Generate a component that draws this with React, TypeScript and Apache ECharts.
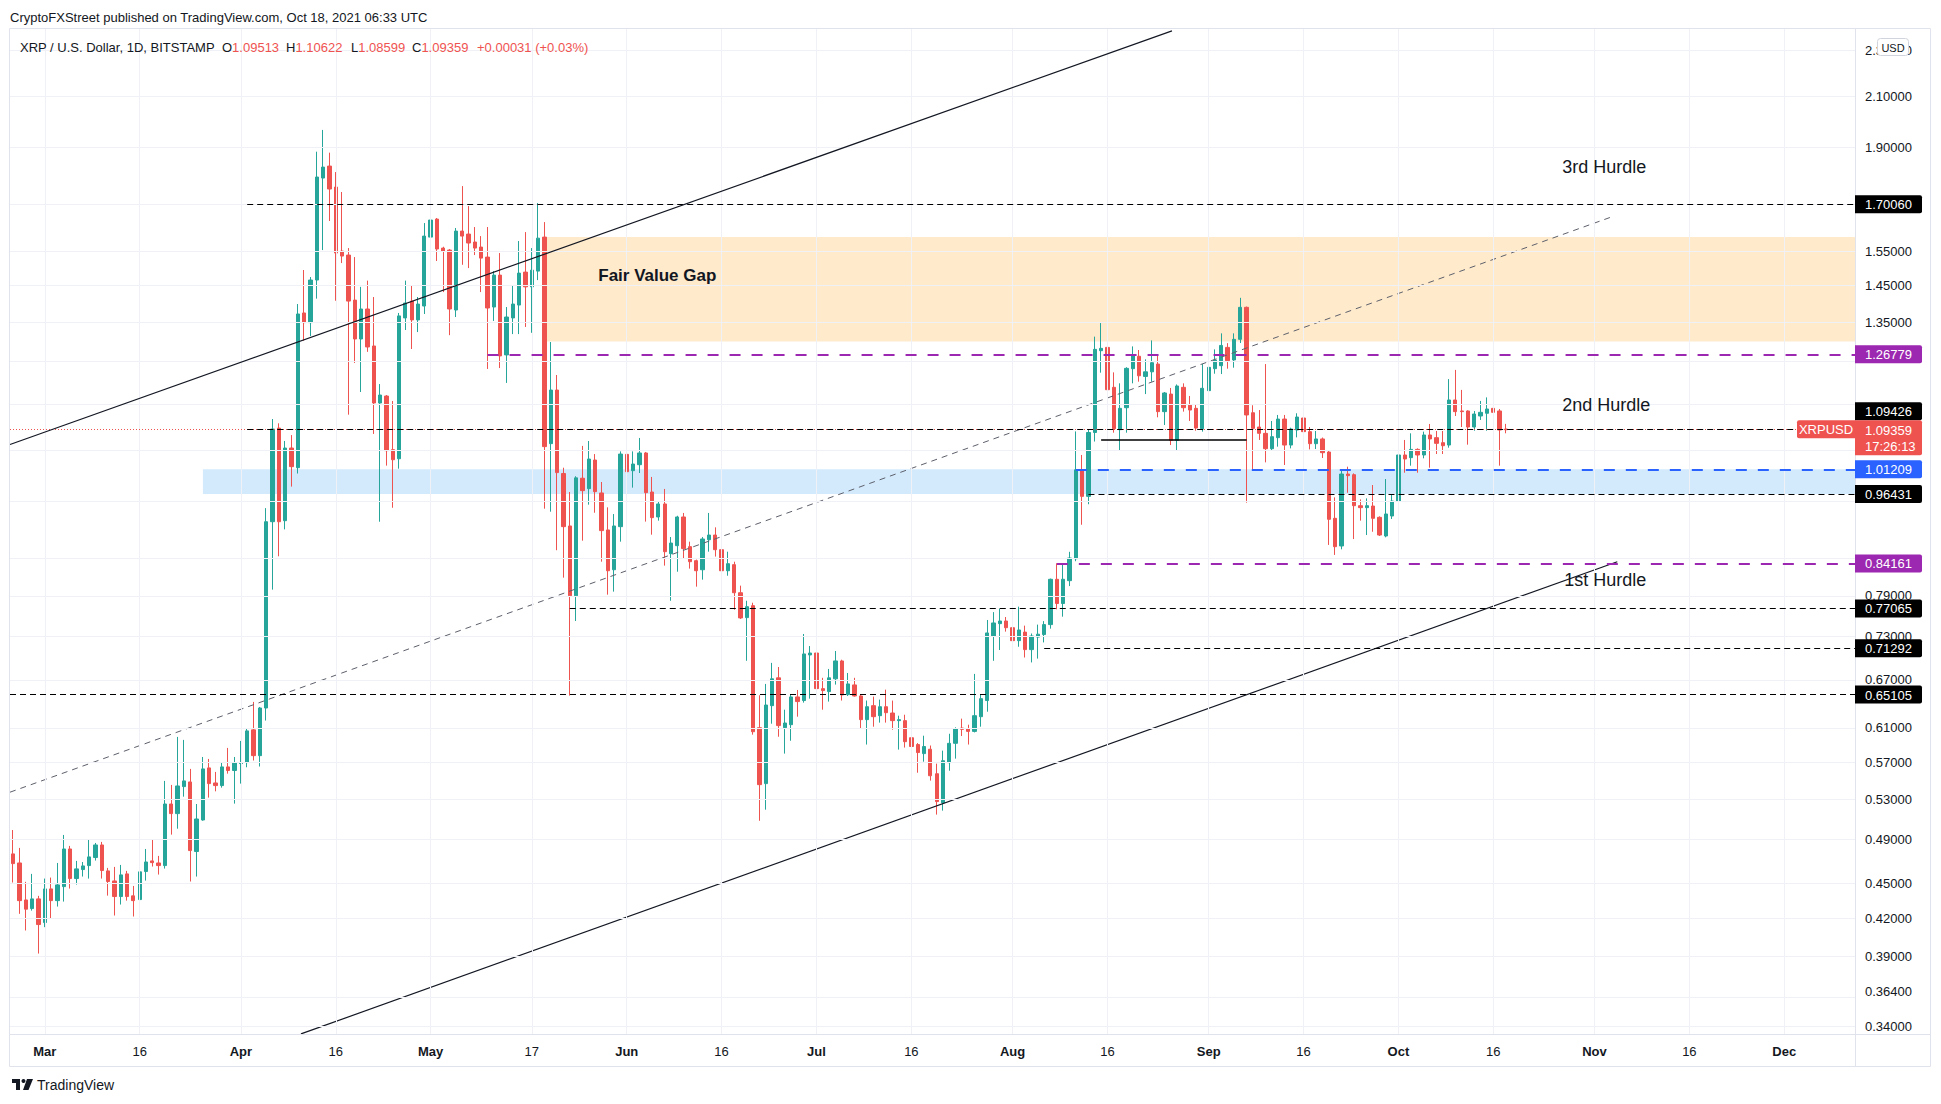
import React, { useEffect, useRef } from 'react';
import * as echarts from 'echarts';

// ---------- DATA ----------
const startDate = '2021-02-24';
const dayCount = 292; // Feb 24 .. Dec 11 (axis span)

// [open, close, low, high]
const febCandles = [
  [0.4765, 0.4675, 0.4505, 0.4993], [0.4681, 0.4348, 0.4237, 0.4821], [0.4354, 0.4276, 0.4101, 0.4511],
  [0.4281, 0.4363, 0.4264, 0.4582], [0.4363, 0.4149, 0.392, 0.4389],
];
const marCandles = [
  [0.4165, 0.4449, 0.4128, 0.454], [0.4449, 0.4348, 0.4198, 0.4549], [0.4348, 0.4484, 0.4298, 0.4681],
  [0.4469, 0.4811, 0.434, 0.4945], [0.4811, 0.454, 0.4452, 0.484], [0.454, 0.4627, 0.4487, 0.47],
  [0.4621, 0.4654, 0.4558, 0.469], [0.4657, 0.4737, 0.454, 0.4897], [0.4731, 0.4849, 0.4703, 0.4868],
  [0.4849, 0.4612, 0.454, 0.4878], [0.4609, 0.4514, 0.4391, 0.4636], [0.4519, 0.4383, 0.4223, 0.4645],
  [0.4383, 0.4573, 0.4315, 0.4663], [0.4582, 0.4383, 0.4348, 0.4609], [0.4389, 0.4348, 0.4215, 0.4475],
  [0.4357, 0.46, 0.4264, 0.5193], [0.4603, 0.469, 0.4522, 0.4811], [0.47, 0.4684, 0.4648, 0.4897],
  [0.4681, 0.4657, 0.4576, 0.4746], [0.4657, 0.5254, 0.463, 0.5497], [0.5254, 0.5156, 0.4948, 0.5454],
  [0.5156, 0.5443, 0.5006, 0.5992], [0.5436, 0.5497, 0.533, 0.5957], [0.5486, 0.4796, 0.4514, 0.5628],
  [0.4787, 0.5102, 0.4558, 0.5254], [0.5092, 0.5628, 0.5085, 0.5761], [0.5639, 0.5468, 0.532, 0.5739],
  [0.5475, 0.5447, 0.5386, 0.5595], [0.5447, 0.565, 0.5425, 0.5695], [0.565, 0.561, 0.5576, 0.5864],
  [0.561, 0.5695, 0.5258, 0.5761],
];
const aprCandles = [
  [0.5687, 0.5695, 0.5468, 0.5945], [0.5698, 0.6063, 0.5646, 0.6087], [0.6075, 0.5776, 0.5721, 0.6417],
  [0.5776, 0.6341, 0.5654, 0.6354], [0.6341, 0.9133, 0.6187, 0.9379], [0.9133, 1.0951, 0.7995, 1.1168],
  [1.0971, 0.9133, 0.8535, 1.1074], [0.9151, 1.0551, 0.8997, 1.0698], [1.0551, 1.0173, 0.9783, 1.0822],
  [1.0153, 1.3719, 1.0037, 1.3988], [1.3746, 1.3488, 1.3019, 1.4953], [1.3488, 1.4662, 1.3137, 1.4748],
  [1.4662, 1.7939, 1.4137, 1.8852], [1.7904, 1.8292, 1.5548, 1.9673], [1.8328, 1.7523, 1.6459, 1.8817],
  [1.7591, 1.5458, 1.4079, 1.8115], [1.5518, 1.5367, 1.5157, 1.742], [1.5397, 1.407, 1.1263, 1.5609],
  [1.4097, 1.3063, 1.2464, 1.5337], [1.3063, 1.3853, 1.1774, 1.4467], [1.3853, 1.286, 1.2738, 1.4645],
  [1.2885, 1.1524, 1.0846, 1.4182], [1.1524, 1.1705, 0.9133, 1.1959], [1.1682, 1.0497, 1.0193, 1.1705],
  [1.0517, 1.0312, 0.9386, 1.1569], [1.0332, 1.3667, 1.0133, 1.3746], [1.3613, 1.4015, 1.3295, 1.4645],
  [1.407, 1.356, 1.2809, 1.4497], [1.356, 1.3988, 1.3241, 1.4182], [1.3934, 1.598, 1.3719, 1.6393],
];
const mayCandles = [
  [1.5948, 1.649, 1.5069, 1.6652], [1.6521, 1.558, 1.5218, 1.6556], [1.5609, 1.5518, 1.432, 1.565],
  [1.5548, 1.3853, 1.3161, 1.5578], [1.3826, 1.6137, 1.3637, 1.6235], [1.6137, 1.598, 1.5106, 1.7624],
  [1.6043, 1.5764, 1.5009, 1.6946], [1.5795, 1.5609, 1.5397, 1.6266], [1.564, 1.5305, 1.432, 1.598],
  [1.5336, 1.388, 1.2318, 1.6266], [1.3907, 1.4804, 1.3533, 1.492], [1.4804, 1.2637, 1.234, 1.5458],
  [1.2662, 1.3637, 1.1986, 1.3907], [1.3613, 1.3988, 1.3189, 1.4497], [1.3961, 1.4862, 1.3189, 1.5826],
  [1.4891, 1.4467, 1.3374, 1.6106], [1.4467, 1.4949, 1.3222, 1.5609], [1.492, 1.5916, 1.466, 1.7047],
  [1.5948, 1.058, 0.9369, 1.6424], [1.0642, 1.182, 0.9314, 1.2986], [1.182, 1.0055, 0.8637, 1.2173],
  [1.0038, 0.9045, 0.8185, 1.0152], [0.9057, 0.79, 0.6497, 0.968], [0.79, 0.9952, 0.7519, 0.9984],
  [0.9945, 0.9706, 0.88, 1.0595], [0.9744, 1.0326, 0.9443, 1.0697], [1.0306, 0.9687, 0.9295, 1.0427],
  [0.9662, 0.8975, 0.8445, 0.9872], [0.8987, 0.8297, 0.7917, 0.9394], [0.8313, 0.9057, 0.7964, 0.9271],
  [0.9045, 1.0427, 0.8783, 1.0482],
];
const junCandles = [
  [1.0421, 1.0073, 0.9726, 1.0987], [1.0093, 1.0225, 0.9763, 1.0482], [1.0212, 1.0449, 1.0047, 1.0761],
  [1.0449, 0.9668, 0.9135, 1.047], [0.968, 0.9206, 0.8904, 0.997], [0.9218, 0.9456, 0.9152, 0.9493],
  [0.9456, 0.8612, 0.838, 0.9738], [0.8579, 0.8759, 0.7823, 0.8863], [0.8714, 0.9218, 0.8281, 0.924],
  [0.9218, 0.8663, 0.8495, 0.9291], [0.8697, 0.8445, 0.8331, 0.8783], [0.8462, 0.8297, 0.8042, 0.848],
  [0.8313, 0.8829, 0.8153, 0.8863], [0.8817, 0.8898, 0.8612, 0.9291], [0.8898, 0.8646, 0.853, 0.9033],
  [0.8646, 0.8297, 0.8222, 0.8731], [0.8297, 0.8412, 0.8216, 0.8612], [0.8396, 0.7947, 0.7687, 0.8445],
  [0.7947, 0.7564, 0.7549, 0.8058], [0.7569, 0.7733, 0.6955, 0.7823], [0.7748, 0.6053, 0.6018, 0.7793],
  [0.6101, 0.5457, 0.5084, 0.6501], [0.5468, 0.6378, 0.5196, 0.6647], [0.637, 0.6714, 0.6149, 0.6927],
  [0.6727, 0.6126, 0.5994, 0.6871], [0.6101, 0.6157, 0.5799, 0.632], [0.6137, 0.648, 0.5947, 0.6505],
  [0.648, 0.6421, 0.6234, 0.6569], [0.6434, 0.7049, 0.6408, 0.733], [0.7035, 0.7062, 0.6458, 0.7159],
];
const julCandles = [
  [0.7062, 0.6586, 0.6383, 0.708], [0.6586, 0.6561, 0.632, 0.6727], [0.6548, 0.6727, 0.6421, 0.6845],
  [0.6714, 0.6953, 0.6638, 0.709], [0.6953, 0.6505, 0.6434, 0.697], [0.6509, 0.6647, 0.6492, 0.6791],
  [0.6634, 0.6492, 0.6484, 0.6727], [0.6492, 0.6198, 0.6089, 0.6513], [0.6198, 0.6357, 0.5903, 0.6434],
  [0.637, 0.6234, 0.6113, 0.6484], [0.6246, 0.6357, 0.6162, 0.6446], [0.6357, 0.6283, 0.6162, 0.6573],
  [0.6279, 0.6186, 0.6077, 0.6434], [0.6186, 0.6198, 0.5845, 0.6246], [0.6186, 0.5936, 0.5868, 0.6258],
  [0.5982, 0.588, 0.5742, 0.6198], [0.5903, 0.5811, 0.5586, 0.592], [0.5799, 0.588, 0.5708, 0.6006],
  [0.5849, 0.5553, 0.55, 0.5892], [0.5575, 0.5279, 0.5146, 0.5686], [0.5265, 0.5719, 0.5186, 0.5833],
  [0.5697, 0.5917, 0.5608, 0.6029], [0.5917, 0.6089, 0.5742, 0.6105], [0.6097, 0.6081, 0.6002, 0.621],
  [0.6089, 0.6057, 0.5903, 0.6137], [0.6057, 0.6246, 0.6045, 0.6779], [0.6234, 0.6458, 0.6113, 0.6517],
  [0.6434, 0.7345, 0.6295, 0.7534], [0.7302, 0.749, 0.6955, 0.7651], [0.748, 0.7519, 0.7104, 0.7704],
  [0.7519, 0.7421, 0.7364, 0.7578],
];
const augCandles = [
  [0.7421, 0.7235, 0.7, 0.7776], [0.7235, 0.7388, 0.7149, 0.7733], [0.7357, 0.7109, 0.7, 0.7451],
  [0.7109, 0.7301, 0.6933, 0.7337], [0.7286, 0.7327, 0.6985, 0.7466], [0.7322, 0.7466, 0.721, 0.7517],
  [0.7466, 0.8159, 0.7407, 0.817], [0.8159, 0.7781, 0.7693, 0.8419], [0.7781, 0.8159, 0.7583, 0.8419],
  [0.8137, 0.8506, 0.8051, 0.861], [0.8494, 1.011, 0.8453, 1.09], [1.011, 0.9598, 0.9079, 1.0409],
  [0.9598, 1.0877, 0.9451, 1.0947], [1.0877, 1.28, 1.0686, 1.3123], [1.2767, 1.2825, 1.2229, 1.3477],
  [1.285, 1.1828, 1.1351, 1.326], [1.1883, 1.0958, 1.0873, 1.2237], [1.0937, 1.1404, 1.0496, 1.1976],
  [1.1418, 1.2333, 1.0873, 1.236], [1.2325, 1.2645, 1.1976, 1.2875], [1.2628, 1.2155, 1.2015, 1.2784],
  [1.2139, 1.2249, 1.1727, 1.2552], [1.2249, 1.247, 1.2015, 1.3027], [1.2437, 1.133, 1.1205, 1.2661],
  [1.133, 1.1752, 1.1038, 1.1775], [1.1727, 1.0712, 1.0613, 1.1868], [1.0712, 1.1914, 1.0496, 1.195],
  [1.1883, 1.1418, 1.133, 1.1976], [1.1476, 1.1366, 1.1125, 1.1684], [1.1404, 1.0972, 1.0915, 1.1491],
  [1.0958, 1.186, 1.0895, 1.2437],
];
const sepCandles = [
  [1.1806, 1.2357, 1.1554, 1.2437], [1.2325, 1.2537, 1.2204, 1.28], [1.2397, 1.2899, 1.2196, 1.3208],
  [1.285, 1.252, 1.2325, 1.2957], [1.2537, 1.3054, 1.2349, 1.3208], [1.3054, 1.3899, 1.296, 1.416],
  [1.3899, 1.1257, 0.948, 1.392], [1.1306, 1.0965, 1.0119, 1.1473], [1.0994, 1.0859, 1.0719, 1.1366],
  [1.0859, 1.0537, 1.0259, 1.2437], [1.0537, 1.0788, 1.051, 1.1125], [1.0767, 1.1167, 1.0579, 1.1257],
  [1.1167, 1.0613, 1.0206, 1.1257], [1.0613, 1.0951, 1.0544, 1.098], [1.093, 1.1211, 1.0774, 1.1294],
  [1.119, 1.0895, 1.0634, 1.1294], [1.0895, 1.0641, 1.0523, 1.0994], [1.0641, 1.074, 1.053, 1.0909],
  [1.074, 1.0455, 1.0347, 1.077], [1.0469, 0.9176, 0.8727, 1.0489], [0.9194, 0.8697, 0.8558, 0.9579],
  [0.8709, 1.0027, 0.8652, 1.0093], [1.0027, 0.9995, 0.9666, 1.0172], [1.0014, 0.9424, 0.8828, 1.004],
  [0.9424, 0.9388, 0.9152, 0.9541], [0.9388, 0.9424, 0.8898, 0.956], [0.9418, 0.9194, 0.8955, 0.9813],
  [0.9212, 0.8898, 0.8881, 0.923], [0.8881, 0.9272, 0.8858, 0.9929], [0.9236, 0.9511, 0.9182, 0.9636],
];
const octCandles = [
  [0.9511, 1.0408, 0.948, 1.0686], [1.0408, 1.0327, 1.0053, 1.0719], [1.0354, 1.0523, 1.0192, 1.0859],
  [1.0523, 1.0408, 1.0053, 1.0544], [1.0408, 1.0824, 1.034, 1.0895], [1.0824, 1.074, 1.0152, 1.106],
  [1.0767, 1.0648, 1.0428, 1.0909], [1.0662, 1.0599, 1.0428, 1.0909], [1.0613, 1.1592, 1.0558, 1.2076],
  [1.1592, 1.133, 1.1234, 1.2295], [1.1345, 1.133, 1.0994, 1.1823], [1.1345, 1.0994, 1.062, 1.136],
  [1.0994, 1.1278, 1.0915, 1.1345], [1.1234, 1.1315, 1.1147, 1.157], [1.1294, 1.1389, 1.0915, 1.1651],
  [1.1404, 1.1315, 1.1257, 1.1838], [1.1345, 1.093, 1.0192, 1.1389], [1.09513, 1.09359, 1.08599, 1.10622],
];
const ohlc = [
  ...febCandles, ...marCandles, ...aprCandles, ...mayCandles, ...junCandles,
  ...julCandles, ...augCandles, ...sepCandles, ...octCandles,
];

const xTicks: [string, string][] = [
  ['2021-03-01', 'Mar'], ['2021-03-16', '16'], ['2021-04-01', 'Apr'], ['2021-04-16', '16'],
  ['2021-05-01', 'May'], ['2021-05-17', '17'], ['2021-06-01', 'Jun'], ['2021-06-16', '16'],
  ['2021-07-01', 'Jul'], ['2021-07-16', '16'], ['2021-08-01', 'Aug'], ['2021-08-16', '16'],
  ['2021-09-01', 'Sep'], ['2021-09-16', '16'], ['2021-10-01', 'Oct'], ['2021-10-16', '16'],
  ['2021-11-01', 'Nov'], ['2021-11-16', '16'], ['2021-12-01', 'Dec'],
];
const monthNames = ['Mar', 'Apr', 'May', 'Jun', 'Jul', 'Aug', 'Sep', 'Oct', 'Nov', 'Dec'];

const yTicks = [2.3, 2.1, 1.9, 1.7, 1.55, 1.45, 1.35, 1.25, 1.15, 1.05, 0.95, 0.85, 0.79, 0.73,
  0.67, 0.61, 0.57, 0.53, 0.49, 0.45, 0.42, 0.39, 0.364, 0.34];
const yMin = 0.33485;
const yMax = 2.402;

// horizontal levels: [price, first day index]
const blackLevels: [number, number][] = [
  [1.7006, 37], [1.09426, 37], [0.96431, 170], [0.77065, 88], [0.71292, 163], [0.65105, -0.5],
];
const purpleLevels: [number, number][] = [[1.26779, 75], [0.84161, 165]];
const blueLevels: [number, number][] = [[1.01209, 168]];
const lastPrice = 1.09359;
const rangeLow: [number, number, number] = [1.0733, 172, 195]; // price, from, to

const fairValueGap = [84, 1.30, 1.595]; // from day, low, high
const demandZone = [30, 0.96431, 1.01209];

const upperChannel = [[-0.5, 1.0625], [183.2, 2.3888]];
const midChannel = [[-0.5, 0.5377], [252.9, 1.6606]];
const lowerChannel = [[45.5, 0.3349], [253.6, 0.8445]];

const priceTags: [number, string, string][] = [
  [1.7006, '1.70060', 'black'], [1.26779, '1.26779', 'purple'], [1.09426, '1.09426', 'black'],
  [1.01209, '1.01209', 'blue'], [0.96431, '0.96431', 'black'], [0.84161, '0.84161', 'purple'],
  [0.77065, '0.77065', 'black'], [0.71292, '0.71292', 'black'], [0.65105, '0.65105', 'black'],
];

const annotations: [string, number, number][] = [
  ['Fair Value Gap', 92.5, 1.4807], ['3rd Hurdle', 244.9, 1.8296],
  ['2nd Hurdle', 244.9, 1.1479], ['1st Hurdle', 245.2, 0.8148],
];

// ---------- STYLE ----------
const FONT = "'Liberation Sans', Arial, sans-serif";
const UP = '#26a69a';
const DOWN = '#ef5350';
const INK = '#131722';
const PURPLE = '#9c27b0';
const BLUE = '#2962ff';
const TAG_COLORS: Record<string, string> = { black: '#000000', purple: PURPLE, blue: BLUE };
const AXIS_X = 1855;

const categories: string[] = [];
{
  const d0 = new Date(startDate + 'T00:00:00Z').getTime();
  for (let i = 0; i < dayCount; i++) categories.push(new Date(d0 + i * 86400000).toISOString().slice(0, 10));
}
const xTickIndex = new Map<number, string>(xTicks.map(([d, t]) => [categories.indexOf(d), t]));
const RIGHT_X = dayCount - 0.5;

function levelPair(price: number, from: number, style: any, to = RIGHT_X) {
  return [{ coord: [from, price], lineStyle: style }, { coord: [to, price], lineStyle: style }];
}

function buildOption(): any {
  const blackStyle = { color: '#000000', width: 1, type: [6, 4] };
  const purpleStyle = { color: PURPLE, width: 2, type: [11, 11] };
  const blueStyle = { color: BLUE, width: 2, type: [11, 11] };
  const levelData = [
    levelPair(lastPrice, -0.5, { color: DOWN, width: 1, type: [1, 2] }),
    ...blackLevels.map(([p, f]) => levelPair(p, f, blackStyle)),
    ...purpleLevels.map(([p, f]) => levelPair(p, f, purpleStyle)),
    ...blueLevels.map(([p, f]) => levelPair(p, f, blueStyle)),
    levelPair(rangeLow[0], rangeLow[1], { color: '#000000', width: 1.5, type: 'solid' }, rangeLow[2]),
  ];
  const gridLines = [
    ...yTicks.map((v) => ({ yAxis: v })),
    ...Array.from(xTickIndex.keys()).map((i) => ({ xAxis: i })),
  ];
  return {
    animation: false,
    backgroundColor: '#ffffff',
    grid: { left: 10, right: 84, top: 28, bottom: 70, containLabel: false, outerBoundsMode: 'none' },
    xAxis: [
      {
        type: 'category', data: categories, boundaryGap: true,
        axisLine: { show: false }, axisTick: { show: false }, splitLine: { show: false },
        axisLabel: {
          interval: (i: number) => xTickIndex.has(i),
          formatter: (_v: string, i: number) => {
            const t = xTickIndex.get(i) || '';
            return monthNames.includes(t) ? `{b|${t}}` : t;
          },
          margin: 11, color: INK, fontSize: 13, fontFamily: FONT, hideOverlap: false,
          rich: { b: { fontWeight: 'bold', fontSize: 13, color: INK, fontFamily: FONT } },
        },
      },
      { type: 'value', min: -0.5, max: RIGHT_X, show: false },
    ],
    yAxis: {
      type: 'log', logBase: 10, min: yMin, max: yMax, position: 'right',
      axisLine: { show: false }, axisTick: { show: false }, axisLabel: { show: false }, splitLine: { show: false },
    },
    series: [
      {
        type: 'line', xAxisIndex: 1, yAxisIndex: 0, data: [[-0.5, 1]], symbol: 'none', silent: true, z: 1,
        lineStyle: { opacity: 0 },
        markLine: {
          silent: true, symbol: ['none', 'none'], label: { show: false }, animation: false,
          lineStyle: { color: '#eff1f6', width: 1, type: 'solid' }, data: gridLines,
        },
        markArea: {
          silent: true, animation: false, label: { show: false },
          data: [
            [{ coord: [fairValueGap[0], fairValueGap[2]], itemStyle: { color: 'rgba(255,152,0,0.2)' } },
              { coord: [RIGHT_X, fairValueGap[1]] }],
            [{ coord: [demandZone[0], demandZone[2]], itemStyle: { color: 'rgba(33,150,243,0.2)' } },
              { coord: [RIGHT_X, demandZone[1]] }],
          ],
        },
      },
      {
        type: 'candlestick', xAxisIndex: 0, yAxisIndex: 0, data: ohlc, barWidth: 3.8, z: 3, silent: true,
        itemStyle: {
          color: UP, color0: DOWN, borderColor: UP, borderColor0: DOWN, borderColorDoji: UP, borderWidth: 1,
        },
      },
      {
        type: 'line', xAxisIndex: 1, yAxisIndex: 0, data: midChannel, symbol: 'none', silent: true, z: 4,
        lineStyle: { color: '#5d606b', width: 1, type: [6, 5] },
      },
      {
        type: 'line', xAxisIndex: 1, yAxisIndex: 0, data: lowerChannel, symbol: 'none', silent: true, z: 4,
        lineStyle: { color: INK, width: 1.2 },
      },
      {
        type: 'line', xAxisIndex: 1, yAxisIndex: 0, data: upperChannel, symbol: 'none', silent: true, z: 5,
        lineStyle: { color: INK, width: 1.2 },
        markLine: {
          silent: true, symbol: ['none', 'none'], label: { show: false }, animation: false, data: levelData,
        },
      },
    ],
  };
}

function buildGraphics(chart: any): any[] {
  const px = (x: number) => chart.convertToPixel({ xAxisIndex: 1 }, x) as number;
  const py = (v: number) => chart.convertToPixel({ yAxisIndex: 0 }, v) as number;
  const els: any[] = [];
  const txt = (text: string, x: number, y: number, extra: any = {}, z = 50) => ({
    type: 'text', x, y, z, silent: true,
    style: { text, fill: INK, fontSize: 13, fontFamily: FONT, align: 'left', verticalAlign: 'middle', ...extra },
  });

  // frame and separators
  els.push({ type: 'rect', z: 40, silent: true, shape: { x: 9.5, y: 28.5, width: 1921, height: 1038 },
    style: { fill: 'none', stroke: '#e0e3eb', lineWidth: 1 } });
  els.push({ type: 'line', z: 40, silent: true, shape: { x1: AXIS_X + 0.5, y1: 28, x2: AXIS_X + 0.5, y2: 1066 },
    style: { stroke: '#e0e3eb', lineWidth: 1 } });
  els.push({ type: 'line', z: 40, silent: true, shape: { x1: 10, y1: 1034.5, x2: 1930, y2: 1034.5 },
    style: { stroke: '#e0e3eb', lineWidth: 1 } });
  els.push({ type: 'rect', z: 41, silent: true, shape: { x: AXIS_X + 1, y: 29, width: 74, height: 1005 },
    style: { fill: '#ffffff' } });

  // price tag boxes (computed first, so tick labels hidden behind them can be skipped)
  const lpY = py(lastPrice);
  const redTop = lpY - 9.5;
  const redBottom = redTop + 35;
  const occupied: [number, number][] = [[redTop, redBottom]];
  const tagEls: any[] = [];
  priceTags.forEach(([v, label, kind]) => {
    let cy = py(v);
    if (cy + 9 > redTop && cy - 9 < redBottom) cy = redTop - 9;
    occupied.push([cy - 9, cy + 9]);
    tagEls.push({ type: 'rect', z: 60, silent: true, shape: { x: AXIS_X, y: cy - 9, width: 67, height: 18, r: [0, 2, 2, 0] },
      style: { fill: TAG_COLORS[kind] } });
    tagEls.push(txt(label, AXIS_X + 10, cy + 0.5, { fill: '#ffffff' }, 61));
  });

  // axis tick labels (a label whose centre lies under a price tag is hidden, as in the reference)
  yTicks.forEach((v) => {
    const y = py(v);
    const covered = occupied.some(([a, b]) => y >= a - 1 && y <= b + 1);
    if (!covered) els.push(txt(v.toFixed(5), AXIS_X + 10, y, {}, 50));
  });
  els.push(...tagEls);

  els.push({ type: 'rect', z: 62, silent: true, shape: { x: AXIS_X, y: redTop, width: 67, height: 35, r: [0, 2, 2, 0] },
    style: { fill: DOWN } });
  els.push(txt('1.09359', AXIS_X + 10, lpY + 0.5, { fill: '#ffffff' }, 63));
  els.push(txt('17:26:13', AXIS_X + 10, lpY + 16.5, { fill: '#ffffff' }, 63));
  els.push({ type: 'rect', z: 62, silent: true, shape: { x: AXIS_X - 58, y: redTop, width: 58, height: 18, r: [2, 0, 0, 2] },
    style: { fill: DOWN } });
  els.push(txt('XRPUSD', AXIS_X - 29, redTop + 9.5, { fill: '#ffffff', align: 'center' }, 63));

  // USD badge
  els.push({ type: 'rect', z: 70, silent: true, shape: { x: 1877.5, y: 38.5, width: 31, height: 17, r: 3 },
    style: { fill: '#ffffff', stroke: '#d1d4dc', lineWidth: 1 } });
  els.push(txt('USD', 1893, 47.5, { fontSize: 11, align: 'center' }, 71));

  // annotations
  annotations.forEach(([t, x, y], i) => {
    els.push(txt(t, px(x), py(y), i === 0 ? { fontSize: 17, fontWeight: 'bold' } : { fontSize: 18 }, 55));
  });

  // header + legend
  els.push(txt('CryptoFXStreet published on TradingView.com, Oct 18, 2021 06:33 UTC', 10, 17, {}, 80));
  els.push(txt('XRP / U.S. Dollar, 1D, BITSTAMP', 20, 47, {}, 80));
  const legendItems: [string, string, number][] = [
    ['O', '1.09513', 222], ['H', '1.10622', 286], ['L', '1.08599', 351], ['C', '1.09359', 412],
  ];
  legendItems.forEach(([k, v, x]) => {
    els.push(txt(`{k|${k}}{v|${v}}`, x, 47, {
      rich: { k: { fill: INK, fontSize: 13, fontFamily: FONT }, v: { fill: DOWN, fontSize: 13, fontFamily: FONT } },
    }, 80));
  });
  els.push(txt('+0.00031 (+0.03%)', 477, 47, { fill: DOWN }, 80));

  // TradingView logo
  els.push({ type: 'polygon', z: 80, silent: true,
    shape: { points: [[12, 1079], [20, 1079], [20, 1090], [16, 1090], [16, 1083], [12, 1083]] }, style: { fill: INK } });
  els.push({ type: 'circle', z: 80, silent: true, shape: { cx: 23.5, cy: 1081, r: 2 }, style: { fill: INK } });
  els.push({ type: 'polygon', z: 80, silent: true,
    shape: { points: [[27, 1079], [33, 1079], [28.5, 1090], [23, 1090]] }, style: { fill: INK } });
  els.push(txt('TradingView', 37, 1085, { fontSize: 14 }, 80));
  return els;
}

export default function App() {
  const ref = useRef<HTMLDivElement>(null);
  useEffect(() => {
    const el = ref.current;
    if (!el) return;
    const chart = echarts.init(el, null, { renderer: 'svg' });
    chart.setOption(buildOption());
    chart.setOption({ graphic: { elements: buildGraphics(chart) } });
    return () => chart.dispose();
  }, []);
  return (
    <div
      ref={ref}
      style={{ position: 'fixed', left: 0, top: 0, width: 1941, height: 1104, background: '#ffffff' }}
    />
  );
}
